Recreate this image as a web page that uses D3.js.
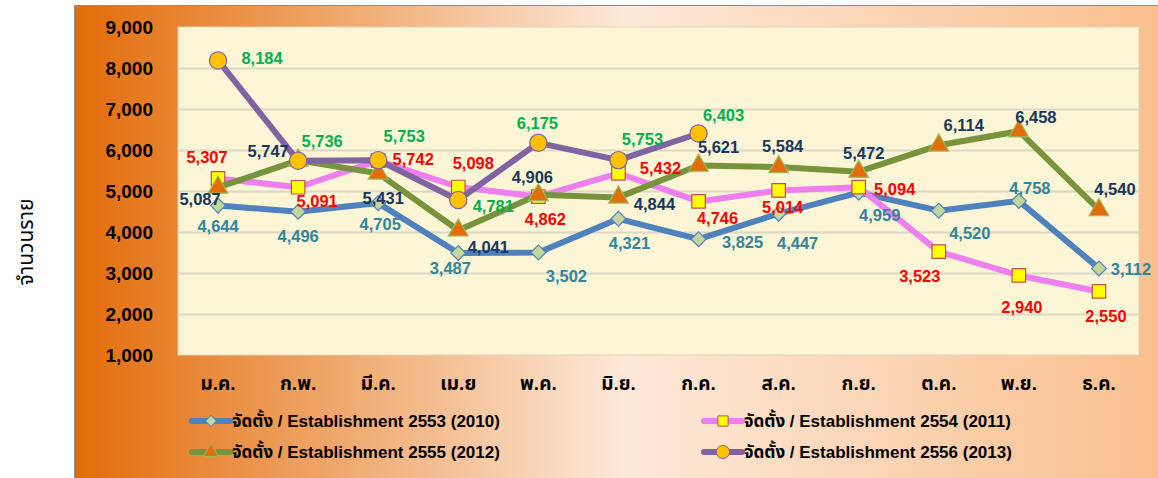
<!DOCTYPE html>
<html>
<head>
<meta charset="utf-8">
<script src="https://cdn.jsdelivr.net/npm/d3@7"></script>
<style>
  body { margin: 0; background: #fff; }
  svg text { font-family: "Liberation Sans", Arial, "Noto Sans Thai", "Tahoma", "Noto Sans", "DejaVu Sans", sans-serif; }
</style>
</head>
<body>
<svg id="chart" width="1158" height="478"></svg>
<script>
// data
const months = ['ม.ค.', 'ก.พ.', 'มี.ค.', 'เม.ย', 'พ.ค.', 'มิ.ย.', 'ก.ค.', 'ส.ค.', 'ก.ย.', 'ต.ค.', 'พ.ย.', 'ธ.ค.'];
const yTicks = [1000, 2000, 3000, 4000, 5000, 6000, 7000, 8000, 9000];
const est2553 = [4644, 4496, 4705, 3487, 3502, 4321, 3825, 4447, 4959, 4520, 4758, 3112];
const est2554 = [5307, 5091, 5742, 5098, 4862, 5432, 4746, 5014, 5094, 3523, 2940, 2550];
const est2555 = [5087, 5747, 5431, 4041, 4906, 4844, 5621, 5584, 5472, 6114, 6458, 4540];
const est2556 = [8184, 5736, 5753, 4781, 6175, 5753, 6403];
const seriesNames = [
  'จัดตั้ง / Establishment 2553 (2010)',
  'จัดตั้ง / Establishment 2554 (2011)',
  'จัดตั้ง / Establishment 2555 (2012)',
  'จัดตั้ง / Establishment 2556 (2013)'
];

// label placement (offset of label centre from the point)
const off2553 = [[0,20],[0,24],[2,21],[-8,15],[28,24],[11,24],[44,3],[19,29],[21,22],[31,22],[11,-13],[32,1]];
const off2554 = [[-11,-21],[19,14],[35,-2],[15,-24],[7,22],[42,-5],[19,17],[4,17],[36,2],[-19,24],[3,32],[7,25]];
const off2555 = [[-18,12],[-30,-9],[5,25],[30,17],[-6,-18],[36,7],[20,-19],[4,-21],[5,-19],[25,-20],[17,-14],[16,-21]];
const off2556 = [[44,-2],[24,-20],[26,-24],[35,6],[-1,-20],[24,-21],[25,-18]];

const series = [
  {name: seriesNames[0], values: est2553, offs: off2553, line: '#4F81BD', fill: '#C3D69B', stroke: '#4F81BD', label: '#31859C', shape: 'diamond'},
  {name: seriesNames[1], values: est2554, offs: off2554, line: '#EE7FEE', fill: '#FFFF00', stroke: '#C0504D', label: '#FF0000', shape: 'square'},
  {name: seriesNames[2], values: est2555, offs: off2555, line: '#77933C', fill: '#E46C0A', stroke: '#9BBB59', label: '#17375E', shape: 'triangle'},
  {name: seriesNames[3], values: est2556, offs: off2556, line: '#8064A2', fill: '#FFC000', stroke: '#8064A2', label: '#00B050', shape: 'circle'}
];

const svg = d3.select('#chart');

// background gradient
const defs = svg.append('defs');
const grad = defs.append('linearGradient').attr('id', 'bg').attr('x1', '0%').attr('x2', '100%');
grad.append('stop').attr('offset', '0%').attr('stop-color', '#E36C09');
grad.append('stop').attr('offset', '50%').attr('stop-color', '#FDE9D9');
grad.append('stop').attr('offset', '100%').attr('stop-color', '#F9BE8C');

svg.append('rect')
  .attr('x', 74.5).attr('y', 5.5).attr('width', 1100).attr('height', 480)
  .attr('fill', 'url(#bg)').attr('stroke', '#8c8c8c');

const plot = {left: 178, right: 1139, top: 27, bottom: 355};

const x = d3.scaleBand().domain(months).range([plot.left, plot.right]);
const y = d3.scaleLinear().domain([1000, 9000]).range([plot.bottom, plot.top]);
const cx = i => x(months[i]) + x.bandwidth() / 2;

svg.append('rect')
  .attr('x', plot.left).attr('y', plot.top)
  .attr('width', plot.right - plot.left).attr('height', plot.bottom - plot.top)
  .attr('fill', '#FCF5D6').attr('stroke', '#DDD6B8');

// gridlines
svg.append('g')
  .attr('transform', `translate(${plot.left},0)`)
  .call(d3.axisLeft(y).tickValues(yTicks.slice(1, -1)).tickSize(-(plot.right - plot.left)).tickFormat(''))
  .call(g => g.select('.domain').remove())
  .call(g => g.selectAll('line').attr('stroke', '#DCD8C8').attr('stroke-width', 2));

// y axis
svg.append('g')
  .attr('transform', 'translate(153,0)')
  .call(d3.axisLeft(y).tickValues(yTicks).tickSize(0).tickPadding(0).tickFormat(d3.format(',')))
  .call(g => g.select('.domain').remove())
  .call(g => g.selectAll('text').attr('font-size', 19).attr('font-weight', 'bold').attr('fill', '#000').attr('font-family', null));

// x axis
svg.append('g')
  .attr('transform', `translate(0,${plot.bottom})`)
  .call(d3.axisBottom(x).tickSize(0).tickPadding(22))
  .call(g => g.select('.domain').remove())
  .call(g => g.selectAll('text').attr('font-size', 19).attr('font-weight', 'bold').attr('fill', '#000').attr('font-family', null));

// y title
svg.append('text')
  .attr('transform', 'translate(25,242) rotate(-90)')
  .attr('text-anchor', 'middle').attr('dominant-baseline', 'central')
  .attr('font-size', 21).attr('fill', '#000')
  .text('จำนวนราย');

// marker shapes; diamond = square turned 45deg
const symbolFor = (shape, s) => {
  if (shape === 'diamond') return d3.symbol(d3.symbolSquare, s * 0.85)();
  if (shape === 'square') return d3.symbol(d3.symbolSquare, s * 1.4)();
  if (shape === 'triangle') return d3.symbol(d3.symbolTriangle, s * 1.3)();
  return d3.symbol(d3.symbolCircle, s * 1.8)();
};
const rot = shape => shape === 'diamond' ? ' rotate(45)' : '';

const line = d3.line().x((d, i) => cx(i)).y(d => y(d));

series.forEach(s => {
  const g = svg.append('g');
  g.append('path')
    .datum(s.values)
    .attr('d', line)
    .attr('fill', 'none')
    .attr('stroke', s.line)
    .attr('stroke-width', 6)
    .attr('stroke-linejoin', 'round');
  g.selectAll('path.mk')
    .data(s.values)
    .join('path')
    .attr('class', 'mk')
    .attr('transform', (d, i) => `translate(${cx(i)},${y(d)})` + rot(s.shape))
    .attr('d', symbolFor(s.shape, 130))
    .attr('fill', s.fill)
    .attr('stroke', s.stroke)
    .attr('stroke-width', 1.2);
});

// data labels drawn on top
series.forEach(s => {
  svg.append('g').selectAll('text')
    .data(s.values)
    .join('text')
    .attr('x', (d, i) => cx(i) + s.offs[i][0])
    .attr('y', (d, i) => y(d) + s.offs[i][1])
    .attr('text-anchor', 'middle')
    .attr('dominant-baseline', 'central')
    .attr('font-size', 16.5)
    .attr('font-weight', 'bold')
    .attr('fill', s.label)
    .text(d => d3.format(',')(d));
});

// legend
const legendPos = [[192, 421], [704, 421], [192, 452], [704, 452]];
series.forEach((s, i) => {
  const [lx, ly] = legendPos[i];
  const g = svg.append('g').attr('transform', `translate(${lx},${ly})`);
  g.append('line').attr('x1', 0).attr('x2', 38).attr('y1', 0).attr('y2', 0)
    .attr('stroke', s.line).attr('stroke-width', 6).attr('stroke-linecap', 'round');
  g.append('path').attr('transform', 'translate(19,0)' + rot(s.shape))
    .attr('d', symbolFor(s.shape, 75))
    .attr('fill', s.fill).attr('stroke', s.stroke).attr('stroke-width', 1);
  g.append('text').attr('x', 40).attr('y', 0)
    .attr('dominant-baseline', 'central')
    .attr('font-size', 17).attr('font-weight', 'bold').attr('fill', '#000')
    .text(s.name);
});
</script>
</body>
</html>
